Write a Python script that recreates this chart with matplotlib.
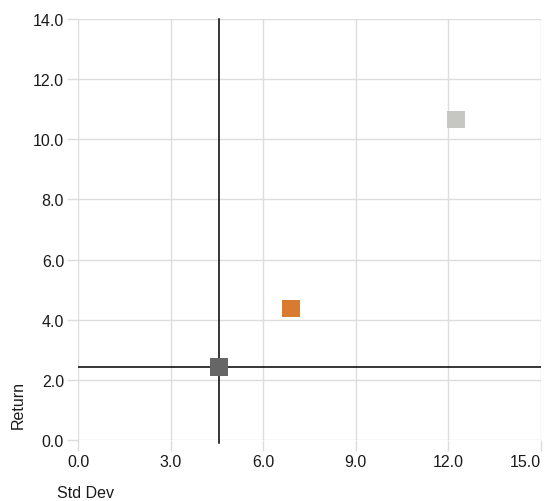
import numpy as np
import matplotlib.pyplot as plt

plt.rcParams['font.family'] = ['Liberation Sans', 'DejaVu Sans']

# data
std_dev = [12.25, 6.9, 4.57]
returns = [10.66, 4.38, 2.43]
colors = ['#c6c6c2', '#d97b2f', '#666666']
ref_x = 4.56
ref_y = 2.43

x_ticks = [0, 3, 6, 9, 12, 15]
y_ticks = [0, 2, 4, 6, 8, 10, 12, 14]

fig = plt.figure(figsize=(5.44, 5.02), dpi=100)
ax = fig.add_axes([0.1434, 0.1215, 0.8511, 0.8385])

ax.axvline(ref_x, ymin=-0.008, color='black', lw=1.1, zorder=2, clip_on=False)
ax.axhline(ref_y, color='black', lw=1.1, zorder=2)

for x, y, c in zip(std_dev, returns, colors):
    ax.scatter(x, y, marker='s', s=155, color=c, edgecolors='none', zorder=3)

ax.set_xlim(0, 15)
ax.set_ylim(0, 14)
ax.set_xticks(x_ticks)
ax.set_yticks(y_ticks)
ax.set_xticklabels(['%.1f' % v for v in x_ticks])
ax.set_yticklabels(['%.1f' % v for v in y_ticks])
ax.get_xticklabels()[-1].set_horizontalalignment('right')
ax.grid(True, color='#dddddd', lw=1, zorder=0)
ax.set_axisbelow(True)
for s in ax.spines.values():
    s.set_visible(False)
ax.tick_params(length=8, width=1, color='#dddddd', labelsize=11.5, pad=2, labelcolor='#1a1a1a')

fig.text(0.033, 0.193, 'Return', rotation=90, ha='center', va='center', fontsize=11.5, color='#1a1a1a')
fig.text(0.105, 0.032, 'Std Dev', ha='left', va='top', fontsize=11.5, color='#1a1a1a')

fig.savefig('out.png', dpi=100)
